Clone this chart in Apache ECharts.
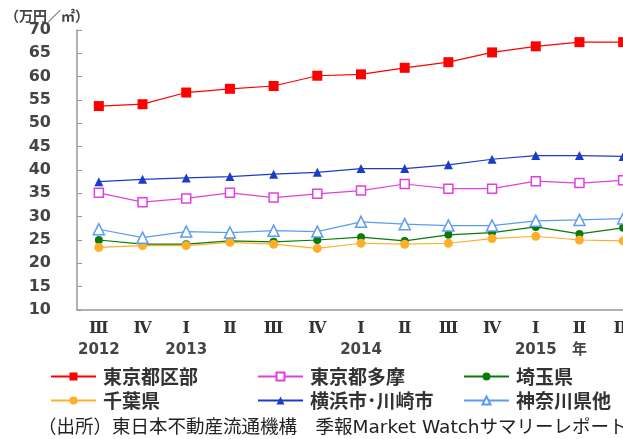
<!DOCTYPE html>
<html>
<head>
<meta charset="utf-8">
<script src="https://cdn.jsdelivr.net/npm/echarts@6/dist/echarts.min.js"></script>
<style>html,body{margin:0;padding:0;background:#fff}#c{width:623px;height:439px}</style>
</head>
<body>
<div id="c"></div>
<script>
var quarters = ['Ⅲ','Ⅳ','Ⅰ','Ⅱ','Ⅲ','Ⅳ','Ⅰ','Ⅱ','Ⅲ','Ⅳ','Ⅰ','Ⅱ','Ⅲ'];
var years = ['2012','','2013','','','','2014','','','','2015','年',''];
var yTicks = [10,15,20,25,30,35,40,45,50,55,60,65,70];

var tokyoKubu   = [53.7,54.1,56.6,57.4,58.0,60.2,60.5,61.9,63.1,65.2,66.5,67.4,67.4];
var tokyoTama   = [35.1,33.1,33.9,35.1,34.1,34.9,35.6,37.0,36.0,36.0,37.6,37.2,37.8];
var saitama     = [25.0,24.1,24.1,24.8,24.6,25.0,25.6,24.8,26.1,26.6,27.8,26.3,27.6];
var chiba       = [23.4,23.8,23.8,24.5,24.1,23.2,24.3,24.1,24.3,25.3,25.8,25.0,24.8];
var yokohama    = [37.5,38.0,38.3,38.6,39.1,39.5,40.3,40.3,41.1,42.3,43.1,43.1,42.9];
var kanagawa    = [27.3,25.5,26.8,26.6,27.0,26.8,28.9,28.4,28.1,28.1,29.1,29.3,29.6];

var seriesNames = ['東京都区部','東京都多摩','埼玉県','千葉県','横浜市･川崎市','神奈川県他'];

var categories = quarters.map(function(q,i){ return q + '|' + years[i]; });

var chart = echarts.init(document.getElementById('c'));

function mkSeries(name, data, color, symbol, size, fill){
  return {
    name: name, type: 'line', data: data,
    symbol: symbol, symbolSize: size,
    lineStyle: {color: color, width: 1.2},
    itemStyle: {color: fill || color, borderColor: color, borderWidth: fill ? 1.5 : 0},
    emphasis: {disabled: true},
    z: 3
  };
}

var legendText = {fontSize: 19, fontWeight: 'bold', color: '#333', fontFamily: 'Noto Sans CJK JP', padding: [0,0,0,2]};
var legendBase = {orient: 'vertical', top: 367, itemGap: 5, itemWidth: 45, itemHeight: 10, padding: 0, textStyle: legendText};

chart.setOption({
  animation: false,
  backgroundColor: '#fff',
  title: [
    {text: '（万円／㎡）', left: 5, top: 9, padding: 0, textStyle: {fontSize: 14, fontWeight: 'bold', color: '#444', fontFamily: 'Noto Sans CJK JP'}},
    {text: '（出所）東日本不動産流通機構　季報Market Watchサマリーレポート', left: 38, top: 419, padding: 0, textStyle: {fontSize: 18.5, fontWeight: 'normal', color: '#222', fontFamily: 'DejaVu Sans, Noto Sans CJK JP'}}
  ],
  grid: {left: 77, top: 30, height: 280, width: 568, containLabel: false, outerBoundsMode: 'none'},
  legend: [
    Object.assign({left: 50, data: [seriesNames[0], seriesNames[3]]}, legendBase),
    Object.assign({left: 257, data: [seriesNames[1], seriesNames[4]]}, legendBase),
    Object.assign({left: 463, data: [seriesNames[2], seriesNames[5]]}, legendBase)
  ],
  xAxis: {
    type: 'category', data: categories, boundaryGap: true,
    axisLine: {lineStyle: {color: '#999', width: 1.5}},
    axisTick: {inside: true, length: 4, lineStyle: {color: '#999'}},
    axisLabel: {
      interval: 0, margin: 8,
      formatter: function(v){ var p = v.split('|'); return '{r|' + p[0] + '}\n{y|' + (p[1] || ' ') + '}'; },
      rich: {
        r: {fontFamily: 'DejaVu Serif', fontWeight: 'bold', fontSize: 16, color: '#333', lineHeight: 21},
        y: {fontFamily: 'DejaVu Sans, Noto Sans CJK JP', fontWeight: 'bold', fontSize: 15, color: '#444', lineHeight: 22}
      }
    },
    splitLine: {show: false}
  },
  yAxis: {
    type: 'value', min: 10, max: 70, interval: 5,
    axisLine: {show: true, lineStyle: {color: '#999', width: 1.5}},
    axisTick: {show: true, inside: true, length: 5, lineStyle: {color: '#999'}},
    axisLabel: {margin: 26, fontSize: 16, fontWeight: 'bold', color: '#444', fontFamily: 'DejaVu Sans',
      formatter: function(v){ return yTicks.indexOf(v) >= 0 ? String(v) : ''; }},
    splitLine: {show: false}
  },
  series: [
    mkSeries(seriesNames[0], tokyoKubu, '#ff0000', 'rect', 10),
    mkSeries(seriesNames[1], tokyoTama, '#e040e0', 'rect', 9, '#ffffff'),
    mkSeries(seriesNames[2], saitama, '#0a7a0a', 'circle', 8),
    mkSeries(seriesNames[3], chiba, '#ffae2a', 'circle', 9),
    mkSeries(seriesNames[4], yokohama, '#1a3cc8', 'triangle', 9),
    mkSeries(seriesNames[5], kanagawa, '#5a9cf0', 'triangle', 11, '#ffffff')
  ]
});
</script>
</body>
</html>
